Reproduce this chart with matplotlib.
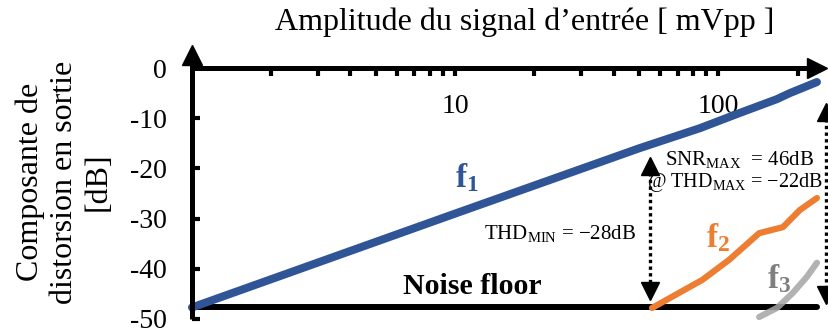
import matplotlib
matplotlib.use('Agg')
import matplotlib.pyplot as plt
import numpy as np
from matplotlib.ticker import LogLocator, NullFormatter

plt.rcParams['font.family'] = ['Liberation Serif', 'DejaVu Serif']
plt.rcParams['mathtext.fontset'] = 'custom'
plt.rcParams['mathtext.rm'] = 'Liberation Serif'
plt.rcParams['mathtext.bf'] = 'Liberation Serif:bold'
plt.rcParams['mathtext.it'] = 'Liberation Serif:italic'
plt.rcParams['axes.unicode_minus'] = False

# ---- data ----
f1_x = [1, 10, 50, 85, 120, 167, 187, 237]
f1_y = [-47.7, -29.0, -16.0, -12.0, -9.0, -6.2, -5.0, -2.8]
f2_x = [56, 87, 110, 143, 176, 204, 237]
f2_y = [-47.8, -42.2, -38.2, -32.9, -31.7, -28.3, -25.9]
f3_x = [143, 167, 192, 217, 237]
f3_y = [-49.6, -47.8, -44.8, -41.6, -38.8]
noise_floor = -47.7
x_range = [1, 250]
y_range = [-50, 0]
y_ticks = [0, -10, -20, -30, -40, -50]
y_tick_labels = ['0', '-10', '-20', '-30', '-40', '-50']
x_ticks = [10, 100]
x_tick_labels = ['10', '100']

# annotation arrows (x, top, bottom)
thd_arrow = (54.8, -19.5, -44.4)
snr_arrow = (257, -8.8, -45.2)

blue = '#2F5597'
orange = '#ED7D31'
gray = '#A5A5A5'

fig = plt.figure(figsize=(8.29, 3.36), dpi=100)
ax = fig.add_axes([0.2316, 0.0506, 0.7612, 0.747])
ax.set_xscale('log')
ax.set_xlim(x_range)
ax.set_ylim(y_range)
for s in ax.spines.values():
    s.set_visible(False)

ax.xaxis.set_ticks_position('top')
ax.set_xticks(x_ticks)
ax.set_xticklabels(x_tick_labels)
ax.xaxis.set_minor_locator(LogLocator(base=10, subs=np.arange(2, 10)))
ax.xaxis.set_minor_formatter(NullFormatter())
ax.tick_params(axis='x', which='both', direction='in', length=6, width=3,
               top=True, bottom=False, labeltop=True, labelbottom=False,
               pad=-37, labelsize=20)
ax.set_yticks(y_ticks)
ax.set_yticklabels(y_tick_labels)
ax.tick_params(axis='y', which='both', direction='in', length=5.5, width=3,
               left=True, right=False, labelsize=20, pad=18)

# axis lines with arrows
ax.plot([0, 0], [0, 1.052], transform=ax.transAxes, color='k', lw=3.6,
        clip_on=False, solid_capstyle='butt', zorder=4)
ax.plot([0], [1.052], marker='^', ms=14, color='k', transform=ax.transAxes,
        clip_on=False, zorder=4)
ax.plot([0, 0.990], [1, 1], transform=ax.transAxes, color='k', lw=3.6,
        clip_on=False, solid_capstyle='butt', zorder=4)
ax.plot([0.990], [1], marker='>', ms=14, color='k', transform=ax.transAxes,
        clip_on=False, zorder=4)

# noise floor
ax.plot([x_range[0], f1_x[-1]], [noise_floor, noise_floor], color='k', lw=4.3,
        solid_capstyle='round', zorder=2, clip_on=False)

# curves
ax.plot(f1_x, f1_y, color=blue, lw=5.8, solid_capstyle='round', zorder=3, clip_on=False)
ax.plot(f2_x, f2_y, color=orange, lw=4.5, solid_capstyle='round', zorder=3, clip_on=False)
ax.plot(f3_x, f3_y, color=gray, lw=4.5, solid_capstyle='round', zorder=3,
        alpha=0.85, clip_on=False)

# dotted arrows
for (xa, yt, yb) in (thd_arrow, snr_arrow):
    ax.plot([xa, xa], [yt, yb], color='k', lw=2.4, linestyle=(0, (1, 1)),
            clip_on=False, zorder=3)
    ax.plot([xa], [yt], marker='^', ms=13, color='k', clip_on=False, zorder=3)
    ax.plot([xa], [yb], marker='v', ms=13, color='k', clip_on=False, zorder=3)

# labels
ax.text(11.1, -21.9, r'$\mathbf{f_1}$', color=blue, fontsize=24, ha='center', va='center')
ax.text(100, -33.9, r'$\mathbf{f_2}$', color=orange, fontsize=24, ha='center', va='center')
ax.text(170, -42.0, r'$\mathbf{f_3}$', color='#7F7F7F', fontsize=24, ha='center', va='center')
ax.text(11.6, -43.6, 'Noise floor', fontsize=21.5, fontweight='bold', ha='center', va='center')
ax.text(25, -32.9, r'THD$_{\mathrm{MIN}}$ = −28dB', fontsize=15, ha='center', va='center')
ax.text(120, -18.3, r'SNR$_{\mathrm{MAX}}$  = 46dB', fontsize=15, ha='center', va='center')
ax.text(116, -22.9, r'@ THD$_{\mathrm{MAX}}$ = −22dB', fontsize=14.5, ha='center', va='center')

fig.text(525 / 829, 1 - 22 / 336, "Amplitude du signal d’entrée [ mVpp ]", fontsize=23,
         ha='center', va='center')
fig.text(64 / 829, 1 - 182 / 336, "Composante de\ndistorsion en sortie\n[dB]", fontsize=23,
         ha='center', va='center', rotation=90, multialignment='center', linespacing=1.22)

fig.savefig('out.png', dpi=100)
